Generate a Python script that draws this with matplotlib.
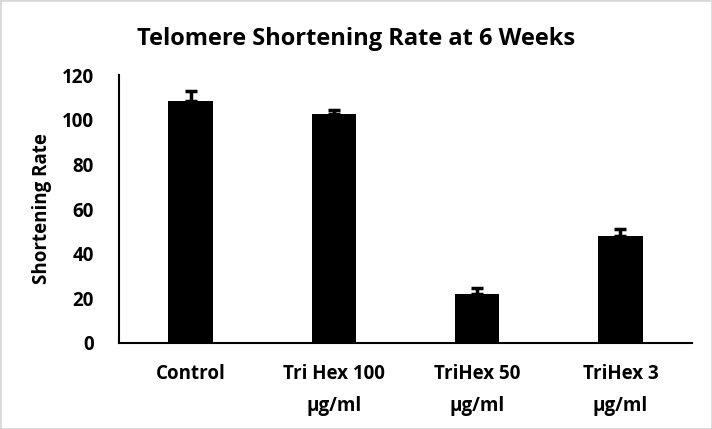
import matplotlib
matplotlib.use("Agg")
import matplotlib.pyplot as plt

categories = ["Control", "Tri Hex 100\nµg/ml", "TriHex 50\nµg/ml", "TriHex 3\nµg/ml"]
values = [108.5, 102.4, 22.1, 47.8]
errors = [4.2, 1.9, 2.7, 3.2]
yticks = [0, 20, 40, 60, 80, 100, 120]

plt.rcParams['font.family'] = ['Open Sans', 'DejaVu Sans']
plt.rcParams['font.weight'] = 'bold'

fig = plt.figure(figsize=(7.12, 4.29), dpi=100)
ax = fig.add_axes([0.167, 0.2005, 0.805, 0.6245])

x = range(len(categories))
ax.bar(x, values, width=0.31, color='black', zorder=2)
ax.errorbar(x, values, yerr=[[0]*len(errors), errors], fmt='none', ecolor='black',
            elinewidth=2.5, capsize=4.5, capthick=2.5, zorder=3)

ax.set_xlim(-0.5, 3.5)
ax.set_ylim(0, 120)
ax.set_yticks(yticks)
ax.set_xticks(list(x))
ax.set_xticklabels(categories, fontsize=13.5, fontweight='bold', linespacing=1.8)
ax.tick_params(axis='y', labelsize=13.5, length=0, pad=18)
ax.tick_params(axis='x', length=0, pad=15)
for lbl in ax.get_yticklabels():
    lbl.set_fontweight('bold')
ax.spines['top'].set_visible(False)
ax.spines['right'].set_visible(False)
ax.spines['left'].set_linewidth(1.5)
ax.spines['bottom'].set_linewidth(1.5)
ax.set_ylabel("Shortening Rate", fontsize=13.5, fontweight='bold', labelpad=7)
fig.text(0.5, 0.91, "Telomere Shortening Rate at 6 Weeks", ha='center', va='center',
         fontsize=17, fontweight='bold')

fig.patches.append(matplotlib.patches.Rectangle((0, 0), 1, 1, transform=fig.transFigure,
                   fill=False, edgecolor='#d9d9d9', linewidth=2))
fig.savefig("out.png", dpi=100)
